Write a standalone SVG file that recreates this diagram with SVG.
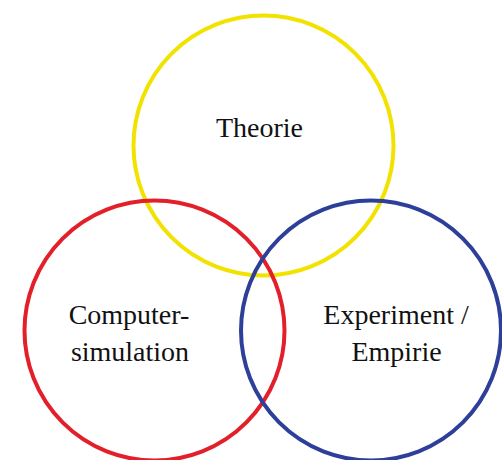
<svg xmlns="http://www.w3.org/2000/svg" width="502" height="460" viewBox="0 0 502 460">
<style>
.ring{fill:none;stroke-width:4}
.lbl{font-family:"Liberation Serif","Times New Roman",Tinos,serif;font-size:28px;fill:#111;text-anchor:middle}
</style>
<rect width="502" height="460" fill="#fff"/>
<g id="theorie">
<circle class="ring" cx="263.5" cy="145.5" r="130" stroke="#f2e200"/>
<text class="lbl" x="259.5" y="137">Theorie</text>
</g>
<g id="computersimulation">
<circle class="ring" cx="154.5" cy="330.5" r="130" stroke="#e3202a"/>
<text class="lbl" x="129" y="324">Computer-</text>
<text class="lbl" x="130" y="361">simulation</text>
</g>
<g id="experiment">
<circle class="ring" cx="371" cy="330.5" r="130" stroke="#2e3f99"/>
<text class="lbl" x="396" y="324">Experiment /</text>
<text class="lbl" x="396.5" y="361">Empirie</text>
</g>
<g id="connectors"/>
</svg>
